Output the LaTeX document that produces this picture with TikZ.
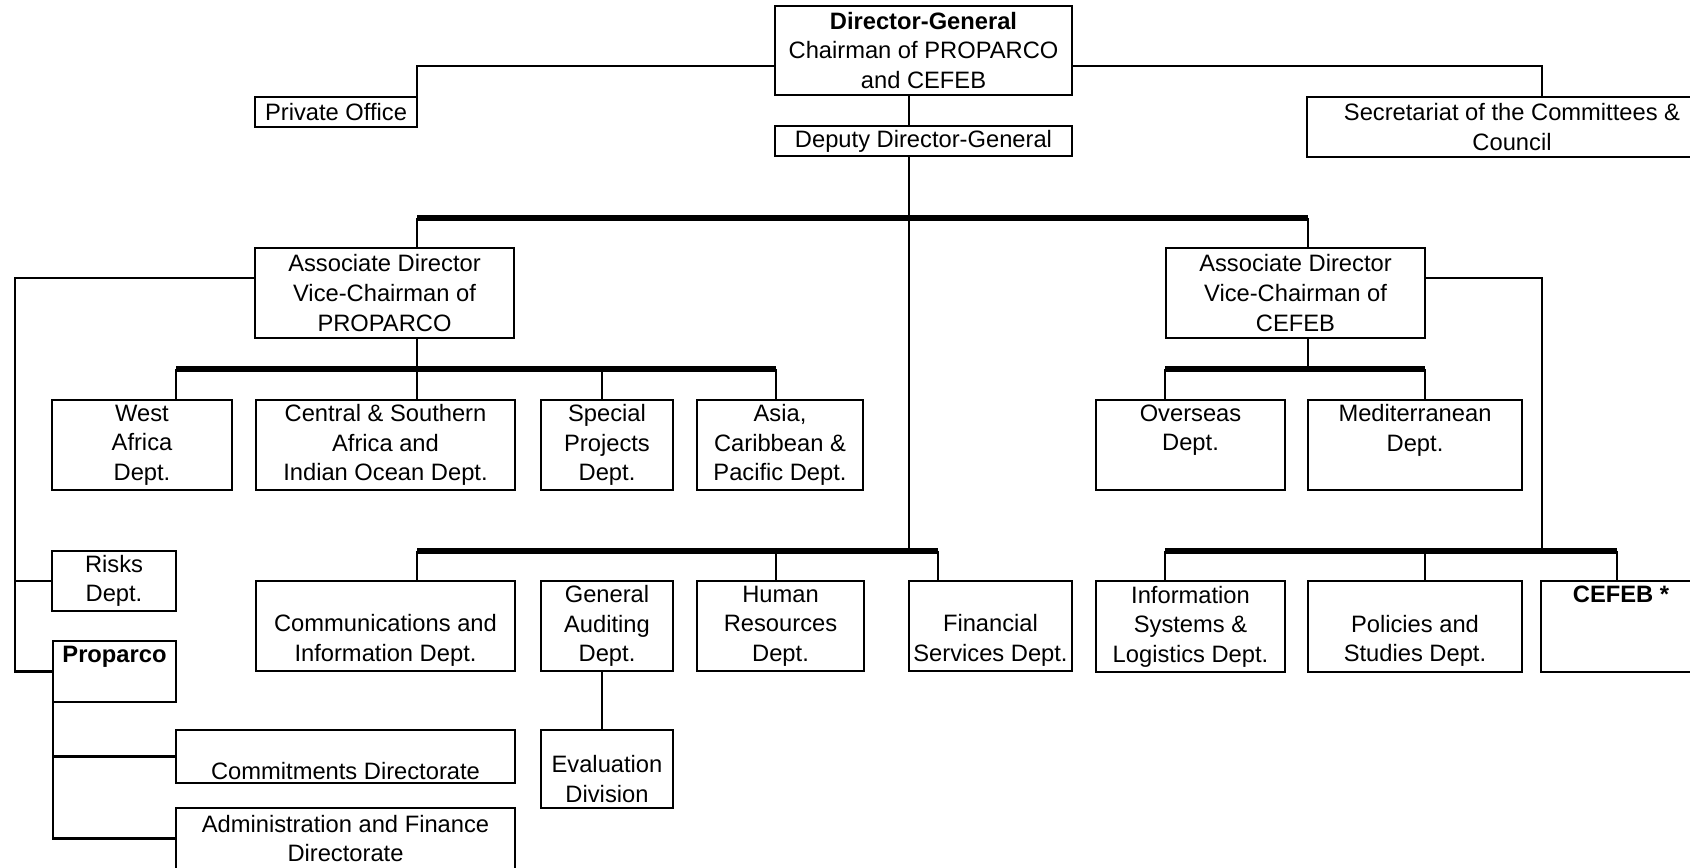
\documentclass[tikz,border=0pt]{standalone}
\usepackage{fontspec}
\setmainfont{Liberation Sans}
\newcommand{\gapline}{\vphantom{Dp}}
\begin{document}
\begin{tikzpicture}[x=0.02cm, y=-0.02cm,
    box/.style 2 args={draw, line width=1.5pt, inner sep=0pt, outer sep=0pt, anchor=north west, align=center,
        minimum width=#1*0.02cm, minimum height=#2*0.02cm, font=\fontsize{13.5}{16.8}\selectfont},
    link/.style={line width=1.2pt}, fine/.style={line width=0.8pt}, bus/.style={line width=3pt}]
    \useasboundingbox (0,0) rectangle (1690,867);
    \coordinate (c1) at (15,0); \coordinate (c2) at (176,0); \coordinate (c3) at (417,0);
    \coordinate (c4) at (602,0); \coordinate (c5) at (776,0); \coordinate (c6) at (909,0);
    \coordinate (c7) at (938,0); \coordinate (c8) at (1165,0); \coordinate (c9) at (1308,0);
    \coordinate (c10) at (1425,0); \coordinate (c11) at (1542,0); \coordinate (c12) at (1617,0);
    \coordinate (r1) at (0,218); \coordinate (r2) at (0,369); \coordinate (r3) at (0,551);

    \node[box={297}{89}] (dg) at (775,6) {\textbf{Director-General}\\Chairman of PROPARCO\\and CEFEB};
    \node[box={162}{30}] (po) at (255,97) {Private Office};
    \node[box={297}{30}] (ddg) at (775,126) {Deputy Director-General};
    \node[box={410}{60}] (sec) at (1307,97) {Secretariat of the Committees \&\\Council};
    \node[box={259}{90}] (adp) at (255,248) {Associate Director\\Vice-Chairman of\\PROPARCO};
    \node[box={259}{90}] (adc) at (1166,248) {Associate Director\\Vice-Chairman of\\CEFEB};

    \node[box={180}{90}] (wa) at (52,400) {West\\Africa\\Dept.};
    \node[box={259}{90}] (csa) at (256,400) {Central \& Southern\\Africa and\\Indian Ocean Dept.};
    \node[box={132}{90}] (spd) at (541,400) {Special\\Projects\\Dept.};
    \node[box={166}{90}] (acp) at (697,400) {Asia,\\Caribbean \&\\Pacific Dept.};
    \node[box={189}{90}] (ovs) at (1096,400) {Overseas\\Dept.\\\gapline};
    \node[box={214}{90}] (med) at (1308,400) {Mediterranean\\Dept.\\\gapline};

    \node[box={124}{60}] (risk) at (52,551) {Risks\\Dept.};
    \node[box={123}{61}] (prop) at (53,641) {\textbf{Proparco}\\\gapline};
    \node[box={259}{90}] (comm) at (256,581) {\gapline\\Communications and\\Information Dept.};
    \node[box={132}{90}] (gad) at (541,581) {General\\Auditing\\Dept.};
    \node[box={167}{90}] (hr) at (697,581) {Human\\Resources\\Dept.};
    \node[box={163}{90}] (fin) at (909,581) {\gapline\\Financial\\Services Dept.};
    \node[box={189}{91}] (isl) at (1096,581) {Information\\Systems \&\\Logistics Dept.};
    \node[box={214}{91}] (pol) at (1308,581) {\gapline\\Policies and\\Studies Dept.};
    \node[box={160}{91}] (cefeb) at (1541,581) {\textbf{CEFEB *}\\\gapline\\\gapline};
    \node[box={339}{53}] (cmt) at (176,730) {\gapline\\Commitments Directorate};
    \node[box={339}{61}] (adm) at (176,808) {Administration and Finance\\Directorate};
    \node[box={132}{78}] (eval) at (541,730) {\rule{0pt}{21pt}Evaluation\\Division};

    \draw[link] ([yshift=-0.31cm]dg.west) -| (po.north east);
    \draw[link] ([yshift=-0.31cm]dg.east) -| (sec.north -| c11);
    \draw[link] (dg.south -| c6) -- (ddg.north -| c6); \draw[link] (ddg.south -| c6) -- (c6 |- r3);
    \draw[bus] (c3 |- r1) -- (c9 |- r1);
    \draw[link] (c3 |- r1) -- (adp.north -| c3); \draw[link] (c9 |- r1) -- (adc.north -| c9);

    \draw[link] (adp.south -| c3) -- (c3 |- r2); \draw[bus] (c2 |- r2) -- (c5 |- r2);
    \draw[link] (c2 |- r2) -- (wa.north -| c2); \draw[fine] (c3 |- r2) -- (csa.north -| c3);
    \draw[fine] (c4 |- r2) -- (spd.north -| c4); \draw[link] (c5 |- r2) -- (acp.north -| c5);
    \draw[link] (adc.south -| c9) -- (c9 |- r2); \draw[bus] (c8 |- r2) -- (c10 |- r2);
    \draw[link] (c8 |- r2) -- (ovs.north -| c8); \draw[link] (c10 |- r2) -- (med.north -| c10);

    \draw[bus] (c3 |- r3) -- (c7 |- r3);
    \draw[link] (c3 |- r3) -- (comm.north -| c3); \draw[link] (c5 |- r3) -- (hr.north -| c5);
    \draw[fine] (c7 |- r3) -- (fin.north -| c7); \draw[fine] (gad.south -| c4) -- (eval.north -| c4);
    \draw[link] ([yshift=0.3cm]adc.east) -| (c11 |- r3); \draw[bus] (c8 |- r3) -- (c12 |- r3);
    \draw[link] (c8 |- r3) -- (isl.north -| c8); \draw[link] (c10 |- r3) -- (pol.north -| c10);
    \draw[link] (c12 |- r3) -- (cefeb.north -| c12);

    \draw[link] ([yshift=0.3cm]adp.west) -| (c1 |- prop.west) -- (prop.west);
    \draw[link] (c1 |- risk.west) -- (risk.west);
    \draw[link] (prop.south west) -- (prop.south west |- adm.west) -- (adm.west);
    \draw[link] (prop.south west |- cmt.west) -- (cmt.west);
\end{tikzpicture}
\end{document}
